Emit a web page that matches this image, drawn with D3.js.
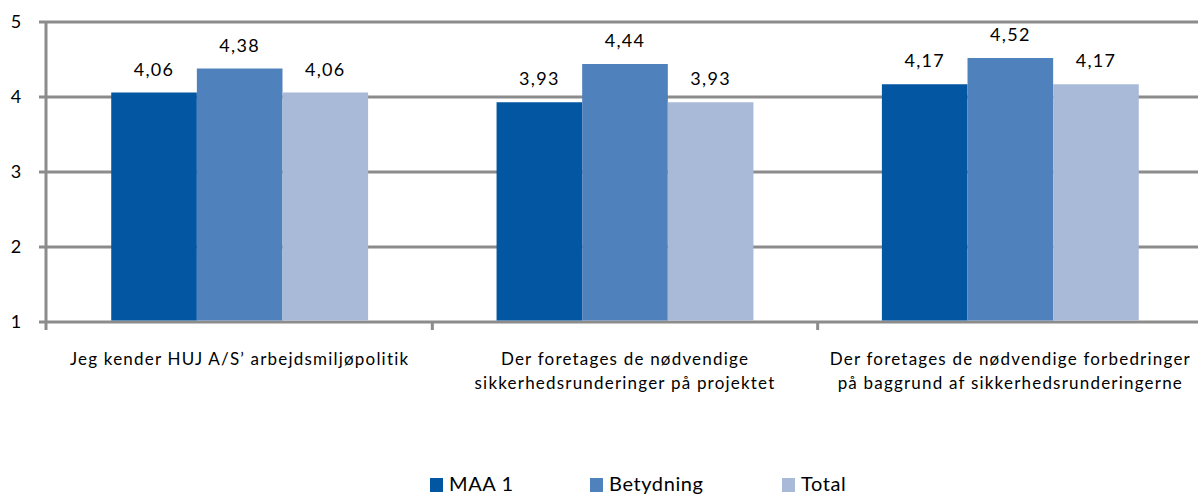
<!DOCTYPE html>
<html>
<head>
<meta charset="utf-8">
<script src="https://cdn.jsdelivr.net/npm/d3@7"></script>
<style>
  body { margin: 0; background: #fff; }
  svg text { font-family: Lato, "Liberation Sans", sans-serif; fill: #000; }
</style>
</head>
<body>
<svg id="chart" width="1198" height="495"></svg>
<script>
// data
var categories = [
    ["Jeg kender HUJ A/S\u2019 arbejdsmiljøpolitik"],
    ["Der foretages de nødvendige", "sikkerhedsrunderinger på projektet"],
    ["Der foretages de nødvendige forbedringer", "på baggrund af sikkerhedsrunderingerne"]
];
var seriesNames = ["MAA 1", "Betydning", "Total"];
var maa1 = [4.06, 3.93, 4.17];
var betydning = [4.38, 4.44, 4.52];
var total = [4.06, 3.93, 4.17];
var yTicks = [1, 2, 3, 4, 5];

var colors = ["#0256a2", "#4f81bd", "#a9bad8"];
var series = [maa1, betydning, total];

var svg = d3.select("#chart");
var m = {l: 47, r: 1203, t: 22, b: 322};

var x0 = d3.scaleBand().domain(d3.range(categories.length)).range([m.l, m.r]).paddingInner(0).paddingOuter(0);
// gap width ~150% of one bar
var x1 = d3.scaleBand().domain(d3.range(series.length)).range([0, x0.bandwidth()]).paddingOuter(0.75).paddingInner(0);
var y = d3.scaleLinear().domain([1, 5]).range([m.b, m.t]);

// gridlines
svg.append("g").selectAll("line").data(yTicks).enter().append("line")
    .attr("x1", m.l - 8).attr("x2", 1198)
    .attr("y1", function(d){return y(d)}).attr("y2", function(d){return y(d)})
    .attr("stroke", "#8c8c8c").attr("stroke-width", 3);

// bars
var g = svg.append("g");
series.forEach(function(s, si){
    g.selectAll(".b" + si).data(s).enter().append("rect")
        .attr("x", function(d, i){return x0(i) + x1(si)})
        .attr("width", x1.bandwidth())
        .attr("y", function(d){return y(d)})
        .attr("height", function(d){return y(1) - y(d) - 1.5})
        .attr("fill", colors[si]);
    g.selectAll(".l" + si).data(s).enter().append("text")
        .attr("x", function(d, i){return x0(i) + x1(si) + x1.bandwidth() / 2})
        .attr("y", function(d){return y(d) - 17})
        .attr("text-anchor", "middle")
        .attr("font-size", 18).attr("letter-spacing", 1.3)
        .text(function(d){return d3.format(".2f")(d).replace(".", ",")});
});

// y axis
svg.append("line").attr("x1", m.l - 1).attr("x2", m.l - 1).attr("y1", m.t).attr("y2", m.b + 8)
    .attr("stroke", "#8c8c8c").attr("stroke-width", 3);
svg.append("g").selectAll("text").data(yTicks).enter().append("text")
    .attr("x", 16).attr("y", function(d){return y(d) + 6})
    .attr("text-anchor", "middle").attr("font-size", 18)
    .text(function(d){return d});

// category ticks
svg.append("g").selectAll("line").data(d3.range(1, categories.length)).enter().append("line")
    .attr("x1", function(d){return x0(d)}).attr("x2", function(d){return x0(d)})
    .attr("y1", m.b).attr("y2", m.b + 8)
    .attr("stroke", "#8c8c8c").attr("stroke-width", 3);

// category labels
var cl = svg.append("g").selectAll("text").data(categories).enter().append("text")
    .attr("text-anchor", "middle").attr("font-size", 17).attr("letter-spacing", 1.2)
    .attr("x", function(d, i){return x0(i) + x0.bandwidth() / 2})
    .attr("y", 365);
cl.selectAll("tspan").data(function(d){return d}).enter().append("tspan")
    .attr("x", function(){return d3.select(this.parentNode).attr("x")})
    .attr("dy", function(d, i){return i ? 24 : 0})
    .text(function(d){return d});

// legend
var legX = [430, 590, 782];
var leg = svg.append("g").selectAll("g").data(seriesNames).enter().append("g")
    .attr("transform", function(d, i){return "translate(" + legX[i] + ",478)"});
leg.append("rect").attr("width", 13).attr("height", 14).attr("fill", function(d, i){return colors[i]});
leg.append("text").attr("x", 19).attr("y", 13).attr("font-size", 20).attr("letter-spacing", 0.6)
    .text(function(d){return d});
</script>
</body>
</html>
